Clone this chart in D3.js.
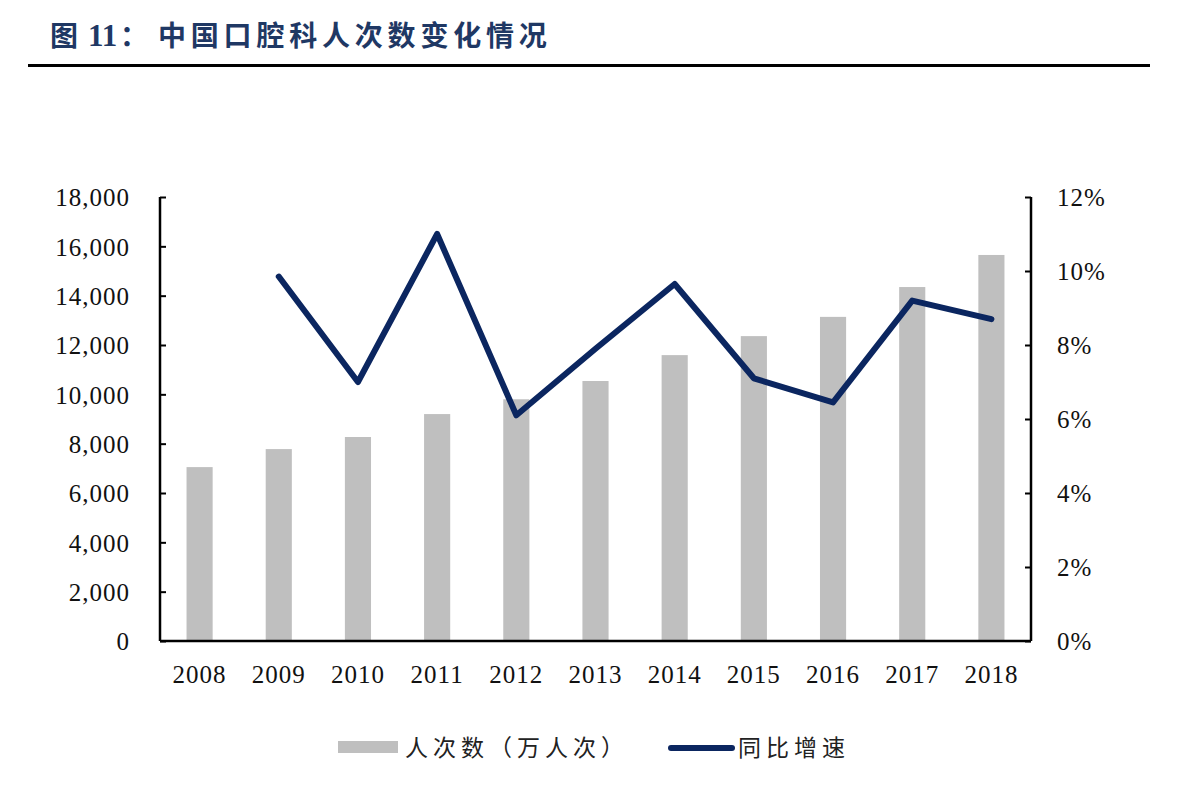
<!DOCTYPE html>
<html>
<head>
<meta charset="utf-8">
<script src="https://cdn.jsdelivr.net/npm/d3@7"></script>
<style>
  body { margin: 0; background: #fff; }
  svg { display: block; }
  .tick text { font-family: "Liberation Serif", "Times New Roman", serif; font-size: 25px; letter-spacing: 1px; fill: #111; }
  .legend text { font-family: "Noto Sans CJK SC", sans-serif; font-size: 23px; letter-spacing: 5px; fill: #222; }
</style>
</head>
<body>
<svg id="chart"></svg>
<script>
const years = ["2008", "2009", "2010", "2011", "2012", "2013", "2014", "2015", "2016", "2017", "2018"];
const visits = [7050, 7780, 8270, 9200, 9800, 10540, 11590, 12360, 13140, 14350, 15650];
const growth = [null, 9.85, 7.0, 11.0, 6.1, 7.9, 9.65, 7.1, 6.45, 9.2, 8.7];
const leftTicks = [0, 2000, 4000, 6000, 8000, 10000, 12000, 14000, 16000, 18000];
const rightTicks = [0, 2, 4, 6, 8, 10, 12];

const width = 1184, height = 790;
const margin = { top: 197, right: 153, bottom: 149, left: 160 };
const innerW = width - margin.left - margin.right;
const innerH = height - margin.top - margin.bottom;

const svg = d3.select("#chart").attr("width", width).attr("height", height);

// title + rule
const title = svg.append("text")
    .attr("y", 46)
    .attr("font-family", "Noto Sans CJK SC, sans-serif")
    .attr("font-size", 28).attr("font-weight", "bold")
    .attr("fill", "#1f3864");
title.append("tspan").attr("x", 50).text("图");
title.append("tspan").attr("x", 88)
    .attr("font-family", "Liberation Serif, serif").attr("font-size", 31)
    .text("11");
title.append("tspan").attr("x", 120).text("：");
title.append("tspan").attr("x", 158).attr("letter-spacing", 4.8)
    .text("中国口腔科人次数变化情况");

svg.append("line")
    .attr("x1", 28).attr("x2", 1150)
    .attr("y1", 65.5).attr("y2", 65.5)
    .attr("stroke", "#000").attr("stroke-width", 3);

const chart = svg.append("g")
    .attr("transform", `translate(${margin.left},${margin.top})`);

const xScale = d3.scaleBand().domain(years).range([0, innerW]).paddingInner(0.67).paddingOuter(0.335);
const yLeft = d3.scaleLinear().domain([0, 18000]).range([innerH, 0]);
const yRight = d3.scaleLinear().domain([0, 12]).range([innerH, 0]);

// bars
chart.selectAll(".bar")
    .data(years)
    .join("rect")
    .attr("class", "bar")
    .attr("x", d => xScale(d))
    .attr("width", xScale.bandwidth())
    .attr("y", (d, i) => yLeft(visits[i]))
    .attr("height", (d, i) => innerH - yLeft(visits[i]))
    .attr("fill", "#bfbfbf");

// line
const pts = years.map((y, i) => ({ year: y, v: growth[i] })).filter(d => d.v != null);
const line = d3.line()
    .x(d => xScale(d.year) + xScale.bandwidth() / 2)
    .y(d => yRight(d.v));

chart.append("path")
    .datum(pts)
    .attr("d", line)
    .attr("fill", "none")
    .attr("stroke", "#0b2660")
    .attr("stroke-width", 6)
    .attr("stroke-linejoin", "round")
    .attr("stroke-linecap", "round");

// axes
const leftAxis = d3.axisLeft(yLeft)
    .tickValues(leftTicks)
    .tickSize(-6)
    .tickPadding(30)
    .tickFormat(d3.format(","));

const rightAxis = d3.axisRight(yRight)
    .tickValues(rightTicks)
    .tickSize(-6)
    .tickPadding(26)
    .tickFormat(d => d + "%");

const xAxis = d3.axisBottom(xScale)
    .tickSize(0)
    .tickPadding(24);

const gl = chart.append("g").call(leftAxis);
const gr = chart.append("g").attr("transform", `translate(${innerW},0)`).call(rightAxis);
const gx = chart.append("g").attr("transform", `translate(0,${innerH})`).call(xAxis);

[gl, gr, gx].forEach(g => {
    g.select(".domain").attr("stroke", "#000").attr("stroke-width", 2.5);
    g.selectAll(".tick line").attr("stroke", "#000").attr("stroke-width", 2);
});
gl.select(".domain").attr("d", `M0,${innerH}V0`);
gr.select(".domain").attr("d", `M0,${innerH}V0`);
gx.select(".domain").attr("d", `M0,0H${innerW}`);
gl.selectAll(".tick text").attr("dy", "0.35em");
gr.selectAll(".tick text").attr("dy", "0.35em");

// legend
const legend = svg.append("g").attr("class", "legend");
legend.append("rect")
    .attr("x", 338).attr("y", 741).attr("width", 60).attr("height", 12)
    .attr("fill", "#bfbfbf");
legend.append("text")
    .attr("x", 405).attr("y", 756)
    .text("人次数（万人次）");
legend.append("line")
    .attr("x1", 671).attr("x2", 732).attr("y1", 748).attr("y2", 748)
    .attr("stroke", "#0b2660").attr("stroke-width", 6).attr("stroke-linecap", "round");
legend.append("text")
    .attr("x", 738).attr("y", 756)
    .text("同比增速");
</script>
</body>
</html>
